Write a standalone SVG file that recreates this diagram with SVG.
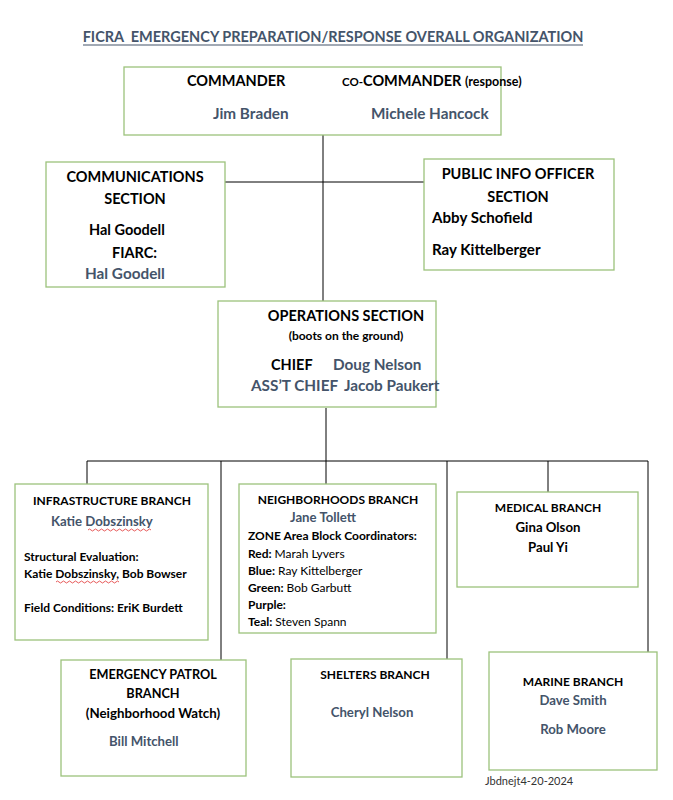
<svg xmlns="http://www.w3.org/2000/svg" width="673" height="800" viewBox="0 0 673 800">
<style>
.box{fill:#fff;stroke:#9cc27c;stroke-width:1.3}
.ln{stroke:#000;stroke-width:1;fill:none}
text{font-family:Lato,"Open Sans",sans-serif;font-weight:bold;fill:#000}
.h{font-size:14.5px}
.n{font-size:15.3px;fill:#44546a}
.s{font-size:12px}
.sn{font-size:13.2px;fill:#44546a}
.r{font-weight:normal}
.m{text-anchor:middle}
.wavy{stroke:#e03030;stroke-width:0.8;fill:none}
</style>
<rect width="673" height="800" fill="#fff"/>
<text x="333" y="42" class="m" style="font-size:14.5px;fill:#44546a">FICRA&#160; EMERGENCY PREPARATION/RESPONSE OVERALL ORGANIZATION</text>
<line x1="83" y1="45" x2="583" y2="45" stroke="#44546a" stroke-width="1.2"/>
<g id="connectors">
<line class="ln" x1="323" y1="135" x2="323" y2="301"/>
<line class="ln" x1="225" y1="182" x2="424" y2="182"/>
<line class="ln" x1="326" y1="408" x2="326" y2="461"/>
<line class="ln" x1="87" y1="461" x2="648" y2="461"/>
<line class="ln" x1="87" y1="461" x2="87" y2="484"/>
<line class="ln" x1="221" y1="461" x2="221" y2="660"/>
<line class="ln" x1="326" y1="461" x2="326" y2="484"/>
<line class="ln" x1="447" y1="461" x2="447" y2="659"/>
<line class="ln" x1="548" y1="461" x2="548" y2="492"/>
<line class="ln" x1="648" y1="461" x2="648" y2="652"/>
</g>
<g id="commander">
<rect class="box" x="124" y="67" width="377" height="68"/>
<text x="187" y="86" class="h">COMMANDER</text>
<text x="342" y="86" class="h"><tspan style="font-size:11.5px">CO-</tspan>COMMANDER <tspan style="font-size:12.5px">(response)</tspan></text>
<text x="213" y="119" class="n">Jim Braden</text>
<text x="371" y="119" class="n">Michele Hancock</text>
</g>
<g id="communications">
<rect class="box" x="46" y="162" width="179" height="125"/>
<text x="135" y="182" class="h m">COMMUNICATIONS</text>
<text x="135" y="204" class="h m">SECTION</text>
<text x="89" y="235" class="h">Hal Goodell</text>
<text x="112" y="258" class="h">FIARC:</text>
<text x="85" y="279" class="n">Hal Goodell</text>
</g>
<g id="pio">
<rect class="box" x="424" y="159" width="190" height="111"/>
<text x="518" y="179" class="h m">PUBLIC INFO OFFICER</text>
<text x="518" y="202" class="h m">SECTION</text>
<text x="432" y="223" class="h" style="font-size:15.1px">Abby Schofield</text>
<text x="432" y="255" class="h" style="font-size:15.1px">Ray Kittelberger</text>
</g>
<g id="operations">
<rect class="box" x="218" y="301" width="218" height="106"/>
<text x="346" y="321" class="h m">OPERATIONS SECTION</text>
<text x="346" y="340" class="s m">(boots on the ground)</text>
<text x="271" y="370" class="h">CHIEF</text>
<text x="333" y="370" class="n">Doug Nelson</text>
<text x="251" y="391" class="n">ASS’T CHIEF</text>
<text x="344" y="391" class="n">Jacob Paukert</text>
</g>
<g id="infrastructure">
<rect class="box" x="15" y="484" width="193" height="156"/>
<text x="112" y="505" class="s m">INFRASTRUCTURE BRANCH</text>
<text x="51" y="526" class="sn">Katie Dobszinsky</text>
<path class="wavy" d="M88 530 q1.5 -2 3 0 t3 0 t3 0 t3 0 t3 0 t3 0 t3 0 t3 0 t3 0 t3 0 t3 0 t3 0 t3 0 t3 0 t3 0 t3 0 t3 0 t3 0 t3 0 t3 0 t3 0"/>
<text x="24" y="561" class="s">Structural Evaluation:</text>
<text x="24" y="578" class="s">Katie Dobszinsky, Bob Bowser</text>
<path class="wavy" d="M56 582 q1.5 -2 3 0 t3 0 t3 0 t3 0 t3 0 t3 0 t3 0 t3 0 t3 0 t3 0 t3 0 t3 0 t3 0 t3 0 t3 0 t3 0 t3 0 t3 0 t3 0 t3 0 t3 0"/>
<text x="24" y="612" class="s">Field Conditions: EriK Burdett</text>
</g>
<g id="neighborhoods">
<rect class="box" x="239" y="484" width="197" height="149"/>
<text x="338" y="504" class="s m">NEIGHBORHOODS BRANCH</text>
<text x="290" y="522" class="sn">Jane Tollett</text>
<text x="248" y="540" class="s">ZONE Area Block Coordinators:</text>
<text x="248" y="558" class="s">Red: <tspan class="r">Marah Lyvers</tspan></text>
<text x="248" y="575" class="s">Blue: <tspan class="r">Ray Kittelberger</tspan></text>
<text x="248" y="592" class="s">Green: <tspan class="r">Bob Garbutt</tspan></text>
<text x="248" y="609" class="s">Purple:</text>
<text x="248" y="626" class="s">Teal: <tspan class="r">Steven Spann</tspan></text>
</g>
<g id="medical">
<rect class="box" x="457" y="492" width="181" height="95"/>
<text x="548" y="512" class="s m">MEDICAL BRANCH</text>
<text x="548" y="532" class="s m" style="font-size:13.2px">Gina Olson</text>
<text x="548" y="552" class="s m" style="font-size:13.2px">Paul Yi</text>
</g>
<g id="patrol">
<rect class="box" x="61" y="660" width="185" height="116"/>
<text x="153" y="679" class="s m" style="font-size:12.7px">EMERGENCY PATROL</text>
<text x="153" y="698" class="s m" style="font-size:12.7px">BRANCH</text>
<text x="153" y="718" class="s m" style="font-size:13.3px">(Neighborhood Watch)</text>
<text x="109" y="746" class="sn">Bill Mitchell</text>
</g>
<g id="shelters">
<rect class="box" x="291" y="659" width="171" height="118"/>
<text x="375" y="679" class="s m">SHELTERS BRANCH</text>
<text x="372" y="717" class="sn m">Cheryl Nelson</text>
</g>
<g id="marine">
<rect class="box" x="489" y="652" width="168" height="118"/>
<text x="573" y="686" class="s m">MARINE BRANCH</text>
<text x="573" y="705" class="sn m">Dave Smith</text>
<text x="573" y="734" class="sn m">Rob Moore</text>
</g>
<text x="485" y="785" style="font-size:11px;font-weight:normal;fill:#333">Jbdnejt4-20-2024</text>
</svg>
